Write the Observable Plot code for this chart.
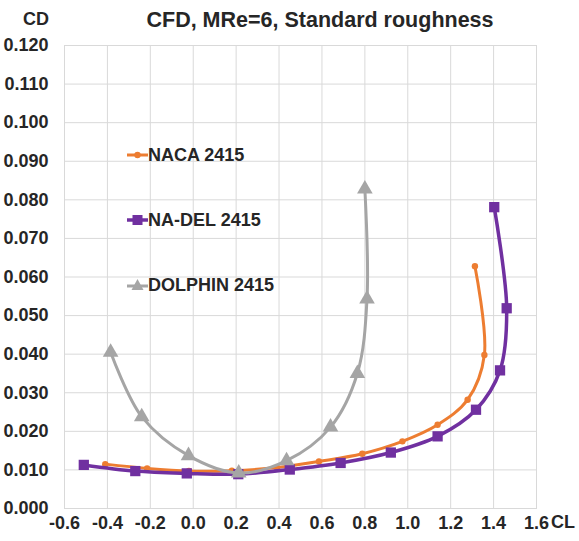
<!DOCTYPE html>
<html>
<head>
<meta charset="utf-8">
<script src="https://cdn.jsdelivr.net/npm/d3@7"></script>
<script src="https://cdn.jsdelivr.net/npm/@observablehq/plot@0.6"></script>
<style>
  html, body { margin: 0; padding: 0; background: #fff; }
  #wrap { position: relative; width: 579px; height: 541px; font-family: "Liberation Sans", Arial, sans-serif; font-weight: bold; color: #262626; overflow: hidden; }
  #chart { position: absolute; left: 0; top: 0; }
  .lbl { position: absolute; white-space: nowrap; line-height: 1; }
  #title { left: 0; width: 640px; top: 10px; text-align: center; font-size: 21.5px; }
  #cd { left: 23px; top: 10px; font-size: 18px; }
  #cl { left: 551px; top: 513px; font-size: 18px; }
  .leg { position: absolute; left: 126px; height: 20px; display: flex; align-items: center; font-size: 18px; }
</style>
</head>
<body>
<div id="wrap">
  <div id="chart"></div>
  <div class="lbl" id="title">CFD, MRe=6, Standard roughness</div>
  <div class="lbl" id="cd">CD</div>
  <div class="lbl" id="cl">CL</div>
  <div class="leg" style="top:145px"><svg width="22" height="20"><line x1="1" y1="10" x2="22" y2="10" stroke="#ED7D31" stroke-width="3"/><circle cx="11.5" cy="10" r="3.2" fill="#ED7D31"/></svg><span>NACA 2415</span></div>
  <div class="leg" style="top:210px"><svg width="22" height="20"><line x1="1" y1="10" x2="22" y2="10" stroke="#7030A0" stroke-width="3.5"/><rect x="6.5" y="5" width="10" height="10" fill="#7030A0"/></svg><span>NA-DEL 2415</span></div>
  <div class="leg" style="top:275px"><svg width="22" height="20"><line x1="1" y1="11" x2="22" y2="11" stroke="#A5A5A5" stroke-width="3"/><polygon points="11.5,4 17.5,15 5.5,15" fill="#A5A5A5"/></svg><span>DOLPHIN 2415</span></div>
</div>
<script>
// ---- data ----
const seriesNames = ["NACA 2415", "NA-DEL 2415", "DOLPHIN 2415"];
const seriesColors = ["#ED7D31", "#7030A0", "#A5A5A5"];

const nacaCL = [-0.41, -0.215, -0.02, 0.18, 0.39, 0.586, 0.788, 0.975, 1.139, 1.279, 1.357, 1.313];
const nacaCD = [0.0115, 0.0104, 0.0097, 0.0098, 0.0106, 0.0122, 0.0142, 0.0174, 0.0217, 0.0282, 0.0398, 0.0628];

const nadelCL = [-0.51, -0.27, -0.03, 0.21, 0.45, 0.687, 0.921, 1.139, 1.318, 1.43, 1.461, 1.403];
const nadelCD = [0.0113, 0.0097, 0.0091, 0.0089, 0.0101, 0.0118, 0.0145, 0.0187, 0.0256, 0.0358, 0.0519, 0.0781];

const dolphinCL = [-0.385, -0.24, -0.022, 0.212, 0.435, 0.64, 0.765, 0.81, 0.80];
const dolphinCD = [0.0405, 0.0238, 0.0137, 0.0092, 0.0124, 0.0211, 0.0350, 0.0543, 0.0828];

const xTicks = [-0.6, -0.4, -0.2, 0.0, 0.2, 0.4, 0.6, 0.8, 1.0, 1.2, 1.4, 1.6];
const yTicks = [0, 0.01, 0.02, 0.03, 0.04, 0.05, 0.06, 0.07, 0.08, 0.09, 0.10, 0.11, 0.12];

const toRows = (cl, cd, s) => cl.map((v, i) => ({cl: v, cd: cd[i], series: s}));
const naca = toRows(nacaCL, nacaCD, seriesNames[0]);
const nadel = toRows(nadelCL, nadelCD, seriesNames[1]);
const dolphin = toRows(dolphinCL, dolphinCD, seriesNames[2]);

const fmtX = d => d3.format(".1f")(d).replace("\u2212", "-");
const fmtY = d => d3.format(".3f")(d).replace("\u2212", "-");

const chart = Plot.plot({
  width: 579,
  height: 541,
  marginTop: 45,
  marginBottom: 33,
  marginLeft: 64,
  marginRight: 43,
  style: {fontFamily: "'Liberation Sans', Arial, sans-serif", fontSize: "18px", fontWeight: "bold", color: "#262626", background: "#fff"},
  x: {domain: [-0.6, 1.6], label: null},
  y: {domain: [0, 0.12], label: null},
  marks: [
    Plot.gridX(xTicks, {stroke: "#d9d9d9", strokeOpacity: 1, strokeWidth: 1}),
    Plot.gridY(yTicks, {stroke: "#d9d9d9", strokeOpacity: 1, strokeWidth: 1}),
    Plot.frame({stroke: "#d9d9d9"}),
    Plot.axisX({ticks: xTicks, tickFormat: fmtX, tickSize: 0, tickPadding: 8, label: null}),
    Plot.axisY({ticks: yTicks, tickFormat: fmtY, tickSize: 0, tickPadding: 16, label: null}),
    Plot.line(naca, {x: "cl", y: "cd", stroke: seriesColors[0], strokeWidth: 3, curve: "catmull-rom"}),
    Plot.dot(naca, {x: "cl", y: "cd", fill: seriesColors[0], r: 3.2, symbol: "circle"}),
    Plot.line(nadel, {x: "cl", y: "cd", stroke: seriesColors[1], strokeWidth: 3.5, curve: "catmull-rom"}),
    Plot.dot(nadel, {x: "cl", y: "cd", fill: seriesColors[1], r: 5.8, symbol: "square"}),
    Plot.line(dolphin, {x: "cl", y: "cd", stroke: seriesColors[2], strokeWidth: 3, curve: "catmull-rom"}),
    Plot.dot(dolphin, {x: "cl", y: "cd", fill: seriesColors[2], r: 5.8, symbol: "triangle"})
  ]
});
document.getElementById("chart").appendChild(chart);
</script>
</body>
</html>
